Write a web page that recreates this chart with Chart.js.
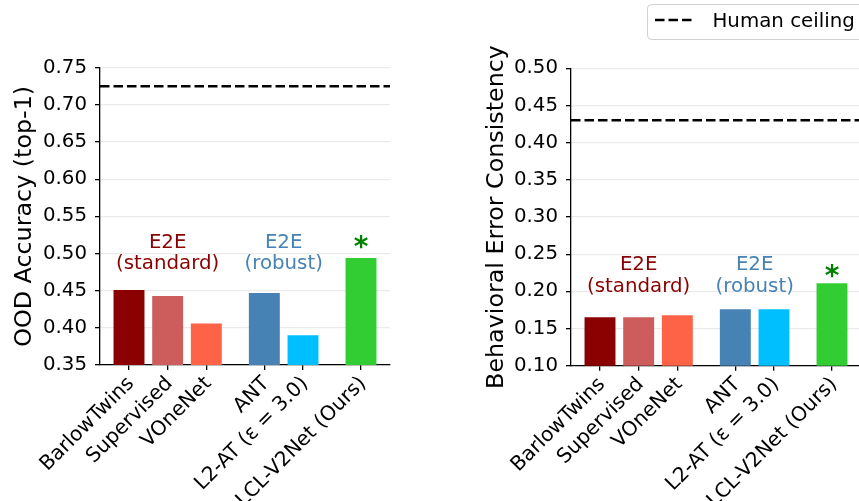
<!DOCTYPE html>
<html>
<head>
<meta charset="utf-8">
<script src="https://cdn.jsdelivr.net/npm/chart.js@4"></script>
<style>
  html, body { margin: 0; padding: 0; background: #fff; overflow: hidden; }
  body { width: 859px; height: 501px; position: relative; }
  canvas { position: absolute; top: 0; }
  #oodChart { left: 0; }
  #errorChart { left: 455px; }
</style>
</head>
<body>
<canvas id="oodChart" width="430" height="501"></canvas>
<canvas id="errorChart" width="415" height="501"></canvas>
<script>
const models = ['BarlowTwins', 'Supervised', 'VOneNet', 'ANT', 'L2-AT (ε = 3.0)', 'LCL-V2Net (Ours)'];
const modelPositions = [0, 1, 2, 3.5, 4.5, 6];
const barColors = ['#8B0000', '#CD5C5C', '#FF6347', '#4682B4', '#00BFFF', '#32CD32'];

const oodAccuracy = [0.451, 0.443, 0.406, 0.447, 0.390, 0.494];
const errorConsistency = [0.165, 0.165, 0.168, 0.176, 0.176, 0.211];

const oodCeiling = 0.725;
const errorCeiling = 0.43;
const ceilingLabel = 'Human ceiling';

const oodTicks = [0.35, 0.40, 0.45, 0.50, 0.55, 0.60, 0.65, 0.70, 0.75];
const errorTicks = [0.10, 0.15, 0.20, 0.25, 0.30, 0.35, 0.40, 0.45, 0.50];

// group notes: text lines, centre position, colour
const groupLines = [['E2E', '(standard)'], ['E2E', '(robust)']];
const groupCenters = [1, 4];
const groupColors = ['#8B0000', '#4682B4'];
const oodNoteY = [0.508, 0.479];
const errorNoteY = [0.2287, 0.1995];
const oodStarY = 0.516;
const errorStarY = 0.227;

const FONT = 19.8;
Chart.defaults.font.family = "'DejaVu Sans'";
Chart.defaults.font.size = FONT;
Chart.defaults.color = '#000';

const notesPlugin = {
    id: 'groupNotes',
    afterDatasetsDraw(chart, args, opts) {
        const {ctx, scales: {x, y}} = chart;
        ctx.save();
        ctx.font = FONT + "px 'DejaVu Sans'";
        ctx.textAlign = 'center';
        ctx.textBaseline = 'alphabetic';
        groupLines.forEach((lines, i) => {
            ctx.fillStyle = groupColors[i];
            lines.forEach((t, j) => {
                ctx.fillText(t, x.getPixelForValue(groupCenters[i]), y.getPixelForValue(opts.lineY[j]));
            });
        });
        // significance star over the last bar
        ctx.font = "bold 28px 'DejaVu Sans'";
        ctx.fillStyle = '#008000';
        const m = ctx.measureText('*');
        const cy = y.getPixelForValue(opts.starY);
        ctx.fillText('*', x.getPixelForValue(modelPositions[modelPositions.length - 1]),
            cy + (m.actualBoundingBoxAscent - m.actualBoundingBoxDescent) / 2);
        ctx.restore();
    }
};

const legendPlugin = {
    id: 'ceilingLegend',
    afterDraw(chart, args, opts) {
        if (!opts.show) return;
        const ctx = chart.ctx;
        const ds = chart.data.datasets[1];
        ctx.save();
        ctx.fillStyle = 'rgba(255,255,255,0.8)';
        ctx.strokeStyle = '#d0d0d0';
        ctx.lineWidth = 1;
        ctx.beginPath();
        ctx.roundRect(192.5, 4.5, 222, 35, 4);
        ctx.fill();
        ctx.stroke();
        ctx.strokeStyle = ds.borderColor;
        ctx.lineWidth = ds.borderWidth;
        ctx.setLineDash(ds.borderDash);
        ctx.beginPath();
        ctx.moveTo(200, 20);
        ctx.lineTo(240, 20);
        ctx.stroke();
        ctx.setLineDash([]);
        ctx.fillStyle = '#000';
        ctx.font = FONT + "px 'DejaVu Sans'";
        ctx.textBaseline = 'alphabetic';
        ctx.fillText(ds.label, 257.5, 27);
        ctx.restore();
    }
};

function makeChart(id, values, ceiling, ticks, yTitle, opts) {
    const yMin = ticks[0];
    const yMax = ticks[ticks.length - 1];
    return new Chart(document.getElementById(id), {
        type: 'bar',
        data: {
            datasets: [
                {
                    type: 'bar',
                    data: modelPositions.map((p, i) => ({x: p, y: values[i]})),
                    backgroundColor: barColors,
                    borderWidth: 0,
                    barPercentage: 0.8,
                    categoryPercentage: 1.0
                },
                {
                    type: 'line',
                    label: ceilingLabel,
                    data: [{x: -0.75, y: ceiling}, {x: 6.75, y: ceiling}],
                    borderColor: '#000',
                    borderWidth: 2.5,
                    borderDash: [9.5, 4],
                    pointRadius: 0,
                    fill: false
                }
            ]
        },
        options: {
            responsive: false,
            animation: false,
            events: [],
            layout: { padding: opts.padding },
            scales: {
                x: {
                    type: 'linear',
                    min: -0.75,
                    max: 6.75,
                    offset: false,
                    afterBuildTicks: (s) => { s.ticks = modelPositions.map(v => ({value: v})); },
                    afterFit: (s) => { s.height = opts.xHeight; },
                    ticks: {
                        autoSkip: false,
                        minRotation: 45,
                        maxRotation: 45,
                        padding: 2,
                        labelOffset: 2,
                        color: '#000',
                        font: { size: 20.2 },
                        callback: (v, i) => models[i]
                    },
                    grid: {
                        offset: false,
                        drawOnChartArea: false,
                        drawTicks: true,
                        tickLength: 5,
                        tickColor: '#000',
                        lineWidth: 1.3
                    },
                    border: { display: true, color: '#000', width: 1.3 }
                },
                y: {
                    min: yMin,
                    max: yMax,
                    afterBuildTicks: (s) => { s.ticks = ticks.map(v => ({value: v})); },
                    afterFit: (s) => { s.width = opts.yWidth; },
                    ticks: {
                        padding: 8,
                        color: '#000',
                        callback: (v) => v.toFixed(2)
                    },
                    grid: {
                        color: '#ebebeb',
                        lineWidth: 1.3,
                        drawTicks: true,
                        tickLength: 5,
                        tickColor: '#000'
                    },
                    border: { display: true, color: '#000', width: 1.3 },
                    title: {
                        display: true,
                        text: yTitle,
                        color: '#000',
                        font: { size: 23.8 },
                        padding: { top: opts.titlePad, bottom: 0 }
                    }
                }
            },
            plugins: {
                legend: { display: false },
                tooltip: { enabled: false },
                groupNotes: { lineY: opts.noteY, starY: opts.starY },
                ceilingLegend: { show: opts.legend }
            }
        },
        plugins: [notesPlugin, legendPlugin]
    });
}

makeChart('oodChart', oodAccuracy, oodCeiling, oodTicks, 'OOD Accuracy (top-1)', {
    padding: { top: 67.7, right: 40, bottom: 0, left: 0 },
    xHeight: 136,
    yWidth: 100,
    titlePad: 10.7,
    noteY: oodNoteY,
    starY: oodStarY,
    legend: false
});

makeChart('errorChart', errorConsistency, errorCeiling, errorTicks, 'Behavioral Error Consistency', {
    padding: { top: 68.3, right: 9, bottom: 0, left: 0 },
    xHeight: 135.3,
    yWidth: 116,
    titlePad: 27.4,
    noteY: errorNoteY,
    starY: errorStarY,
    legend: true
});
</script>
</body>
</html>
